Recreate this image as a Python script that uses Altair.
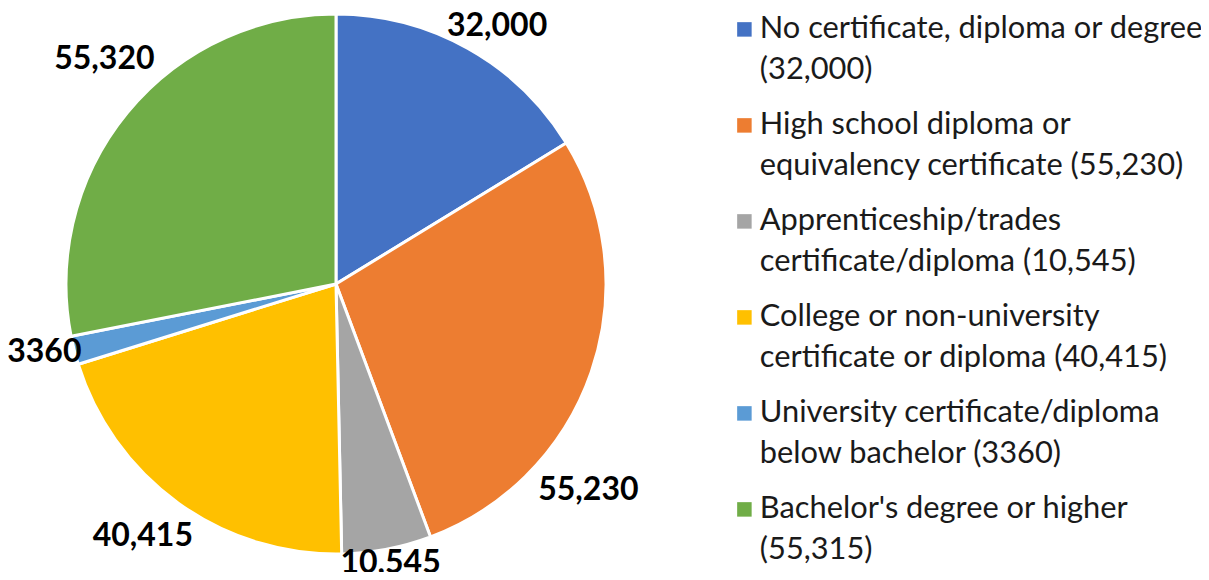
import altair as alt
import pandas as pd

categories = [
    "No certificate, diploma or degree",
    "High school diploma or equivalency certificate",
    "Apprenticeship/trades certificate/diploma",
    "College or non-university certificate or diploma",
    "University certificate/diploma below bachelor",
    "Bachelor's degree or higher",
]
values = [32000, 55230, 10545, 40415, 3360, 55320]
slice_labels = ["32,000", "55,230", "10,545", "40,415", "3360", "55,320"]
legend_labels = [
    "No certificate, diploma or degree|(32,000)",
    "High school diploma or|equivalency certificate (55,230)",
    "Apprenticeship/trades|certificate/diploma (10,545)",
    "College or non-university|certificate or diploma (40,415)",
    "University certificate/diploma|below bachelor (3360)",
    "Bachelor's degree or higher|(55,315)",
]
colors = ["#4472C4", "#ED7D31", "#A5A5A5", "#FFC000", "#5B9BD5", "#70AD47"]

df = pd.DataFrame({
    "idx": list(range(len(categories))),
    "category": categories,
    "value": values,
    "slice_label": slice_labels,
    "legend": legend_labels,
})

CX, CY, R = 328, 276, 270
FONT = "Lato"

color = alt.Color(
    "legend:N",
    scale=alt.Scale(domain=legend_labels, range=colors),
    sort=legend_labels,
    legend=alt.Legend(
        orient="none", legendX=721, legendY=6, title=None,
        symbolType="square", symbolSize=210, symbolStrokeWidth=0,
        labelFont=FONT, labelFontSize=30.8, labelLimit=0, labelOffset=0,
        labelExpr="split(datum.label, '|')", rowPadding=23, padding=0,
        labelColor="#1a1a1a",
    ),
)

base = alt.Chart(df)

pie = base.mark_arc(stroke="white", strokeWidth=3, outerRadius=R).encode(
    theta=alt.Theta("value:Q", stack=True),
    order=alt.Order("idx:Q"),
    color=color,
    x=alt.value(CX), y=alt.value(CY),
)

lab_base = base.transform_window(
    cum="sum(value)", sort=[alt.SortField("idx")]
).transform_calculate(mid="datum.cum - datum.value / 2")


def label_layer(names, dx=0, dy=0, radius=305):
    return lab_base.transform_filter(
        alt.FieldOneOfPredicate(field="slice_label", oneOf=names)
    ).mark_text(
        font=FONT, fontSize=32, fontWeight="bold", color="black",
        radius=radius, dx=dx, dy=dy,
    ).encode(
        theta=alt.Theta("mid:Q", stack=None),
        text="slice_label:N",
        x=alt.value(CX), y=alt.value(CY),
    )


labels = [
    label_layer(["32,000"], dx=12, dy=8),
    label_layer(["55,230"], dx=-36, dy=107),
    label_layer(["10,545"], radius=290, dy=-6),
    label_layer(["40,415"], dx=-15, dy=4),
    label_layer(["3360"], dx=4, dy=-7),
    label_layer(["55,320"], dx=4, dy=-31),
]

chart = alt.layer(pie, *labels).properties(
    width=1193, height=564, padding=0, autosize=alt.AutoSizeParams(type="none")
).configure(
    style={"guide-label": {"lineHeight": 41}},
    view=alt.ViewConfig(stroke=None),
)

chart.save("out.html", embed_options={"renderer": "svg", "actions": False})
